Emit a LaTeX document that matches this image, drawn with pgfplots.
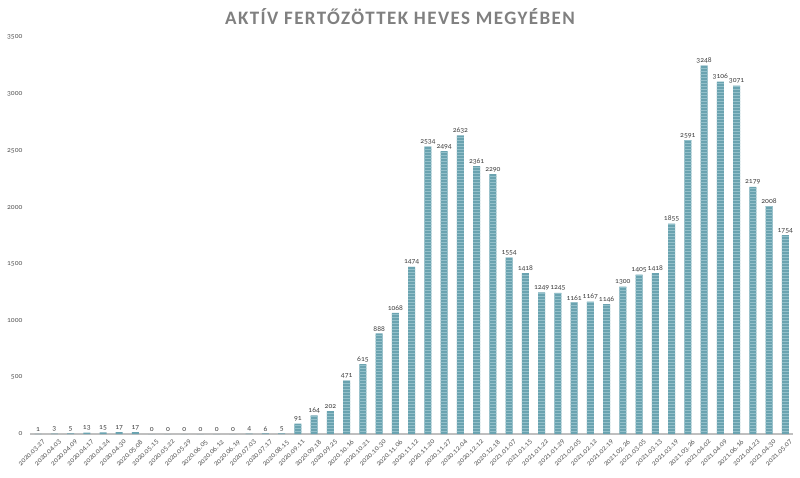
\documentclass[border=0pt]{standalone}
\usepackage{fontspec}
\setmainfont{Carlito}[Numbers=OldStyle]
\newfontfamily\titlefont{Carlito}[LetterSpace=7.5]
\usepackage{pgfplots}
\pgfplotsset{compat=1.18}
\usetikzlibrary{patterns}
\definecolor{barc}{HTML}{6AA3B0}
\definecolor{stripe}{HTML}{93C0CA}
\definecolor{txt}{HTML}{595959}
\definecolor{ttl}{HTML}{808080}
\begin{document}
\begin{tikzpicture}
\path[use as bounding box] (0,0) rectangle (800pt,477pt);
\node[font=\titlefont\fontsize{19}{22}\selectfont\bfseries, text=ttl] at (400pt,460pt) {AKTÍV FERTŐZÖTTEK HEVES MEGYÉBEN};
\begin{axis}[
  at={(29.9pt,43pt)}, anchor=south west,
  scale only axis, width=763.5pt, height=397pt,
  xmin=-0.5, xmax=46.5, ymin=0, ymax=3500,
  axis x line*=bottom, axis y line*=left,
  y axis line style={draw=none},
  x axis line style={draw=black!25, line width=1.2pt, -},
  ytick={0,500,...,3500},
  xtick=data,
  major tick length=0pt,
  xticklabels={2020.03.27,2020.04.03,2020.04.09,2020.04.17,2020.04.24,2020.04.30,2020.05.08,2020.05.15,2020.05.22,2020.05.29,2020.06.05,2020.06.12,2020.06.19,2020.07.03,2020.07.17,2020.08.15,2020.09.11,2020.09.18,2020.09.25,2020.10.16,2020.10.21,2020.10.30,2020.11.06,2020.11.12,2020.11.20,2020.11.27,2020.12.04,2020.12.12,2020.12.18,2021.01.07,2021.01.15,2021.01.22,2021.01.29,2021.02.05,2021.02.12,2021.02.19,2021.02.26,2021.03.05,2021.03.13,2021.03.19,2021.03.26,2021.04.02,2021.04.09,2021.06.16,2021.04.23,2021.04.30,2021.05.07},
  xticklabel style={rotate=45, anchor=north east, font=\fontsize{7.5}{8}\selectfont, text=txt, inner sep=0.5pt, yshift=-6pt, xshift=0pt},
  /pgf/number format/assume math mode=true,
  /pgf/number format/1000 sep={},
  yticklabel style={font=\fontsize{7.5}{8}\selectfont, text=txt, xshift=-4pt},
  scaled y ticks=false,
  ybar, bar width=7pt,
  nodes near coords,
  nodes near coords style={font=\fontsize{7.5}{8}\selectfont, text=black!75, inner sep=2pt},
  clip=false,
]
\addplot[fill=barc, draw=none, postaction={pattern=horizontal lines, pattern color=stripe}] coordinates {
(0,1)(1,3)(2,5)(3,13)(4,15)(5,17)(6,17)(7,0)(8,0)(9,0)(10,0)(11,0)(12,0)(13,4)(14,6)(15,5)
(16,91)(17,164)(18,202)(19,471)(20,615)(21,888)(22,1068)(23,1474)(24,2534)(25,2494)(26,2632)
(27,2361)(28,2290)(29,1554)(30,1418)(31,1249)(32,1245)(33,1161)(34,1167)(35,1146)(36,1300)
(37,1405)(38,1418)(39,1855)(40,2591)(41,3248)(42,3106)(43,3071)(44,2179)(45,2008)(46,1754)};
\end{axis}
\end{tikzpicture}
\end{document}
